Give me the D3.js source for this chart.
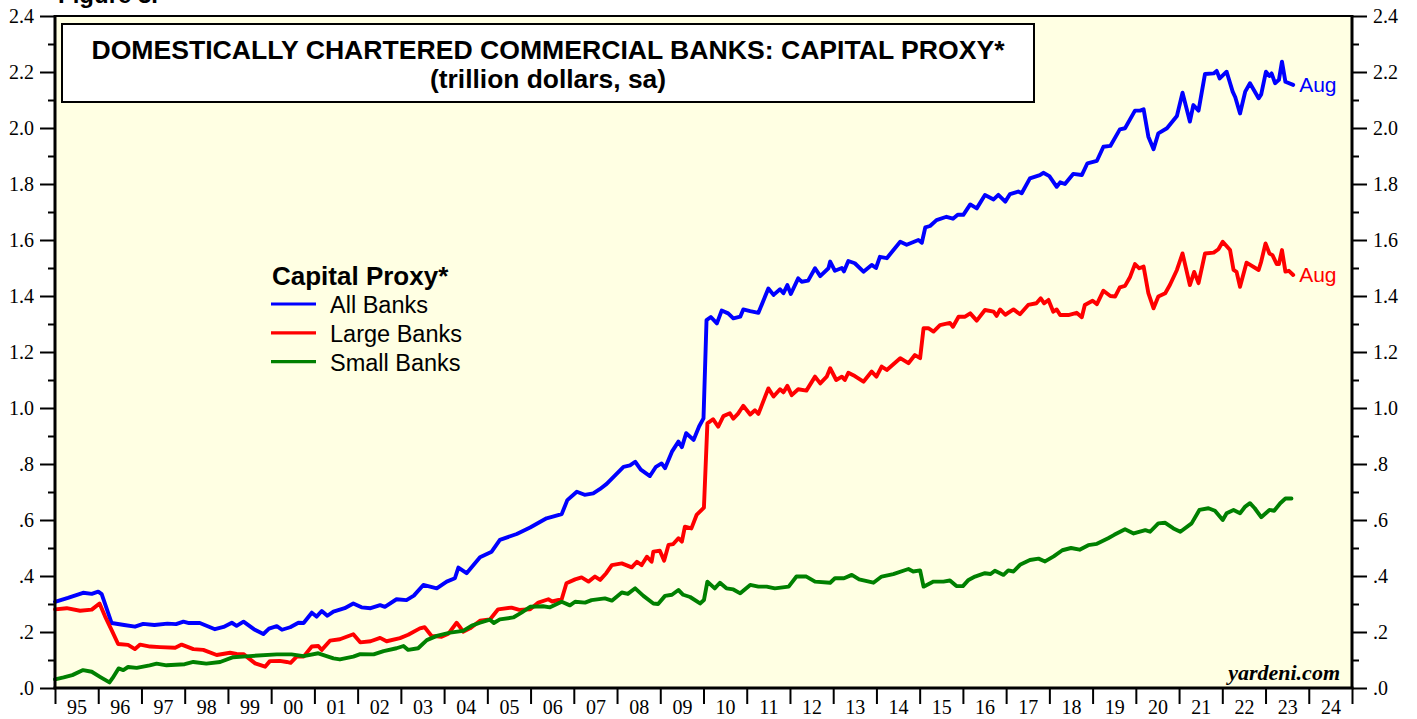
<!DOCTYPE html>
<html><head><meta charset="utf-8">
<script src="https://cdn.jsdelivr.net/npm/d3@7"></script>
<style>html,body{margin:0;padding:0;background:#fff;}svg{display:block;}</style>
</head><body>
<svg id="chart" width="1417" height="719"></svg>
<script>
// ---- data (decimal years, trillion dollars) ----
const allDates = [1995.0,1995.3,1995.65,1995.85,1996.0,1996.08,1996.31,1996.6,1996.85,1997.04,1997.3,1997.6,1997.8,1997.97,1998.1,1998.35,1998.7,1998.9,1999.09,1999.2,1999.36,1999.6,1999.82,1999.95,2000.13,2000.25,2000.44,2000.63,2000.75,2000.94,2001.05,2001.17,2001.3,2001.44,2001.7,2001.9,2002.09,2002.3,2002.52,2002.63,2002.9,2003.13,2003.3,2003.52,2003.83,2004.06,2004.25,2004.33,2004.52,2004.83,2005.1,2005.29,2005.68,2005.99,2006.37,2006.72,2006.85,2007.07,2007.25,2007.45,2007.6,2007.76,2008.15,2008.3,2008.42,2008.55,2008.76,2008.9,2009.03,2009.11,2009.27,2009.42,2009.5,2009.6,2009.77,2009.9,2010.0,2010.07,2010.17,2010.31,2010.42,2010.57,2010.69,2010.85,2010.92,2011.08,2011.27,2011.5,2011.62,2011.77,2011.85,2011.94,2012.02,2012.19,2012.27,2012.42,2012.58,2012.7,2012.89,2012.93,2013.04,2013.2,2013.25,2013.35,2013.5,2013.7,2013.89,2013.99,2014.08,2014.24,2014.55,2014.7,2014.97,2015.05,2015.13,2015.24,2015.39,2015.62,2015.77,2015.88,2016.01,2016.17,2016.32,2016.51,2016.71,2016.82,2016.98,2017.09,2017.28,2017.36,2017.55,2017.78,2017.86,2018.0,2018.17,2018.25,2018.36,2018.55,2018.75,2018.88,2019.1,2019.25,2019.41,2019.63,2019.75,2019.98,2020.1,2020.18,2020.29,2020.41,2020.52,2020.72,2020.95,2021.08,2021.25,2021.33,2021.45,2021.6,2021.8,2021.87,2021.94,2022.1,2022.24,2022.3,2022.41,2022.53,2022.64,2022.84,2022.9,2023.01,2023.09,2023.14,2023.22,2023.31,2023.38,2023.46,2023.64];
const allValues = [0.308,0.322,0.340,0.336,0.344,0.335,0.232,0.225,0.219,0.229,0.225,0.230,0.228,0.237,0.232,0.232,0.210,0.218,0.233,0.222,0.237,0.210,0.193,0.212,0.221,0.208,0.217,0.233,0.232,0.269,0.255,0.275,0.258,0.273,0.285,0.302,0.288,0.285,0.296,0.290,0.317,0.314,0.330,0.368,0.356,0.380,0.392,0.430,0.410,0.467,0.487,0.529,0.550,0.573,0.606,0.621,0.671,0.701,0.690,0.695,0.710,0.729,0.790,0.795,0.808,0.780,0.757,0.790,0.802,0.785,0.844,0.880,0.860,0.910,0.886,0.935,0.963,1.314,1.325,1.302,1.348,1.338,1.320,1.326,1.352,1.346,1.340,1.427,1.404,1.424,1.410,1.439,1.407,1.463,1.451,1.455,1.499,1.471,1.499,1.523,1.490,1.500,1.488,1.525,1.517,1.487,1.511,1.500,1.540,1.535,1.594,1.583,1.600,1.590,1.645,1.650,1.671,1.683,1.676,1.690,1.690,1.727,1.713,1.761,1.745,1.761,1.737,1.764,1.773,1.767,1.820,1.832,1.840,1.828,1.790,1.806,1.800,1.836,1.832,1.874,1.883,1.933,1.936,1.995,1.999,2.062,2.062,2.067,1.969,1.924,1.981,1.999,2.043,2.126,2.023,2.082,2.062,2.193,2.195,2.204,2.177,2.201,2.130,2.110,2.052,2.130,2.160,2.106,2.120,2.201,2.186,2.195,2.160,2.172,2.237,2.165,2.154];

const largeDates = [1995.0,1995.27,1995.58,1995.85,1996.03,1996.16,1996.31,1996.46,1996.69,1996.85,1996.97,1997.2,1997.43,1997.78,1997.93,1998.2,1998.43,1998.74,1999.05,1999.2,1999.36,1999.63,1999.86,1999.97,2000.2,2000.36,2000.45,2000.59,2000.75,2000.94,2001.09,2001.17,2001.36,2001.59,2001.9,2002.06,2002.3,2002.52,2002.67,2002.98,2003.17,2003.44,2003.55,2003.71,2003.94,2004.1,2004.29,2004.36,2004.44,2004.6,2004.83,2005.06,2005.25,2005.56,2005.74,2005.99,2006.18,2006.41,2006.5,2006.72,2006.83,2007.03,2007.18,2007.34,2007.49,2007.61,2007.75,2007.88,2008.11,2008.34,2008.46,2008.57,2008.69,2008.8,2008.84,2008.99,2009.09,2009.19,2009.3,2009.42,2009.5,2009.57,2009.72,2009.84,2010.01,2010.09,2010.22,2010.34,2010.46,2010.61,2010.69,2010.8,2010.92,2011.08,2011.19,2011.27,2011.5,2011.62,2011.77,2011.85,2011.94,2012.04,2012.19,2012.38,2012.58,2012.7,2012.85,2012.93,2013.07,2013.2,2013.27,2013.35,2013.5,2013.7,2013.89,2014.0,2014.12,2014.24,2014.55,2014.74,2014.89,2015.01,2015.09,2015.2,2015.32,2015.47,2015.7,2015.77,2015.9,2016.05,2016.17,2016.32,2016.51,2016.71,2016.78,2016.86,2016.98,2017.17,2017.32,2017.51,2017.7,2017.8,2017.88,2017.98,2018.09,2018.17,2018.25,2018.44,2018.63,2018.75,2018.82,2019.0,2019.1,2019.25,2019.41,2019.52,2019.63,2019.75,2019.87,2019.98,2020.08,2020.18,2020.29,2020.41,2020.52,2020.68,2020.79,2020.95,2021.08,2021.25,2021.35,2021.45,2021.6,2021.8,2021.91,2022.01,2022.18,2022.26,2022.33,2022.41,2022.56,2022.84,2022.9,2023.0,2023.09,2023.16,2023.26,2023.31,2023.38,2023.46,2023.54,2023.64];
const largeValues = [0.281,0.285,0.276,0.280,0.302,0.255,0.207,0.157,0.154,0.139,0.155,0.148,0.146,0.144,0.155,0.139,0.136,0.118,0.126,0.122,0.121,0.088,0.076,0.096,0.097,0.093,0.090,0.112,0.112,0.148,0.150,0.136,0.169,0.174,0.192,0.163,0.167,0.179,0.167,0.178,0.190,0.213,0.217,0.186,0.183,0.194,0.233,0.219,0.201,0.213,0.240,0.245,0.281,0.287,0.279,0.281,0.305,0.317,0.309,0.317,0.374,0.388,0.395,0.380,0.398,0.386,0.410,0.439,0.445,0.431,0.451,0.439,0.469,0.451,0.487,0.490,0.455,0.511,0.514,0.535,0.523,0.576,0.570,0.618,0.644,0.945,0.960,0.933,0.971,0.981,0.962,0.980,1.008,0.977,0.992,0.979,1.070,1.041,1.067,1.056,1.079,1.046,1.067,1.062,1.112,1.088,1.112,1.142,1.100,1.112,1.100,1.126,1.114,1.094,1.130,1.112,1.148,1.136,1.178,1.160,1.189,1.178,1.285,1.285,1.273,1.296,1.304,1.290,1.326,1.326,1.338,1.312,1.350,1.344,1.329,1.352,1.333,1.352,1.335,1.368,1.374,1.392,1.374,1.386,1.344,1.352,1.332,1.332,1.340,1.324,1.368,1.383,1.371,1.419,1.400,1.398,1.431,1.436,1.469,1.514,1.499,1.505,1.410,1.356,1.398,1.410,1.440,1.493,1.552,1.439,1.486,1.446,1.552,1.555,1.567,1.594,1.564,1.493,1.486,1.433,1.519,1.493,1.523,1.588,1.552,1.546,1.514,1.514,1.564,1.487,1.490,1.475];

const smallDates = [1995.0,1995.2,1995.4,1995.65,1995.85,1996.04,1996.26,1996.33,1996.47,1996.58,1996.69,1996.89,1997.19,1997.35,1997.58,1998.0,1998.2,1998.5,1998.82,1999.12,1999.5,2000.13,2000.47,2000.75,2001.09,2001.44,2001.59,2001.9,2002.06,2002.37,2002.6,2002.9,2003.06,2003.17,2003.4,2003.6,2003.83,2004.14,2004.44,2004.64,2004.83,2005.06,2005.15,2005.29,2005.6,2005.79,2005.99,2006.29,2006.45,2006.72,2006.91,2007.03,2007.26,2007.41,2007.72,2007.88,2008.11,2008.25,2008.42,2008.61,2008.84,2008.95,2009.11,2009.27,2009.42,2009.53,2009.69,2009.92,2010.01,2010.09,2010.26,2010.38,2010.53,2010.69,2010.85,2011.08,2011.27,2011.46,2011.65,2011.97,2012.15,2012.38,2012.58,2012.93,2013.04,2013.25,2013.43,2013.6,2013.93,2014.12,2014.39,2014.74,2014.85,2015.01,2015.09,2015.32,2015.55,2015.7,2015.85,2016.0,2016.13,2016.28,2016.51,2016.64,2016.74,2016.94,2017.05,2017.17,2017.32,2017.55,2017.75,2017.9,2018.1,2018.3,2018.5,2018.7,2018.9,2019.1,2019.36,2019.5,2019.75,2019.95,2020.22,2020.33,2020.52,2020.68,2020.87,2021.03,2021.29,2021.47,2021.68,2021.83,2022.01,2022.1,2022.26,2022.41,2022.53,2022.64,2022.75,2022.9,2023.09,2023.2,2023.34,2023.46,2023.6];
const smallValues = [0.031,0.038,0.046,0.064,0.058,0.040,0.020,0.035,0.070,0.064,0.075,0.072,0.081,0.087,0.081,0.085,0.093,0.087,0.093,0.110,0.114,0.120,0.120,0.114,0.124,0.106,0.102,0.112,0.121,0.120,0.132,0.142,0.150,0.136,0.142,0.171,0.186,0.198,0.204,0.223,0.233,0.244,0.232,0.245,0.252,0.269,0.290,0.292,0.288,0.308,0.295,0.308,0.305,0.314,0.320,0.312,0.341,0.336,0.356,0.329,0.302,0.300,0.329,0.333,0.350,0.333,0.325,0.302,0.314,0.380,0.356,0.376,0.356,0.352,0.338,0.368,0.362,0.362,0.356,0.362,0.398,0.398,0.380,0.376,0.392,0.392,0.404,0.388,0.376,0.398,0.407,0.425,0.416,0.420,0.362,0.380,0.380,0.384,0.364,0.364,0.386,0.398,0.410,0.407,0.419,0.404,0.420,0.416,0.440,0.457,0.462,0.452,0.470,0.492,0.500,0.494,0.510,0.515,0.535,0.547,0.567,0.552,0.564,0.558,0.588,0.590,0.570,0.558,0.588,0.636,0.642,0.633,0.600,0.624,0.636,0.624,0.648,0.660,0.642,0.610,0.636,0.633,0.660,0.677,0.677];

const seriesNames = ["All Banks", "Large Banks", "Small Banks"];
const seriesColors = ["#0000ff", "#ff0000", "#008000"];
const yTicks = [0,0.2,0.4,0.6,0.8,1.0,1.2,1.4,1.6,1.8,2.0,2.2,2.4];
const yMinorTicks = [0.1,0.3,0.5,0.7,0.9,1.1,1.3,1.5,1.7,1.9,2.1,2.3];
const xYearTicks = d3.range(1995, 2026);
const xYearLabels = ["95","96","97","98","99","00","01","02","03","04","05","06","07","08","09","10","11","12","13","14","15","16","17","18","19","20","21","22","23","24"];
const lastLabel = "Aug";
const titleLines = ["DOMESTICALLY CHARTERED COMMERCIAL BANKS: CAPITAL PROXY*", "(trillion dollars, sa)"];

// ---- layout ----
const L = 55, R = 1352, T = 16, B = 688;
const svg = d3.select("#chart");
const x = d3.scaleLinear().domain([1995, 2025]).range([L, R]);
const y = d3.scaleLinear().domain([0, 2.4]).range([B, T]);
const serif = "'Liberation Serif', 'Times New Roman', serif";
const sans = "'Liberation Sans', Arial, Helvetica, sans-serif";

svg.append("text").attr("x", 58).attr("y", 3).attr("font-family", sans).attr("font-weight", "bold")
  .attr("font-size", 24).text("Figure 3.");

svg.append("rect").attr("x", L).attr("y", T).attr("width", R - L).attr("height", B - T).attr("fill", "#ffffe3");

// Title box
svg.append("rect").attr("x", 62).attr("y", 24).attr("width", 972).attr("height", 78)
  .attr("fill", "#fff").attr("stroke", "#000").attr("stroke-width", 2);
svg.append("text").attr("x", 548).attr("y", 59).attr("text-anchor", "middle").attr("font-family", sans)
  .attr("font-weight", "bold").attr("font-size", 26.6).text(titleLines[0]);
svg.append("text").attr("x", 548).attr("y", 88).attr("text-anchor", "middle").attr("font-family", sans)
  .attr("font-weight", "bold").attr("font-size", 26.4).text(titleLines[1]);

// lines
const series = [
  {dates: allDates, values: allValues},
  {dates: largeDates, values: largeValues},
  {dates: smallDates, values: smallValues}
];
const line = d3.line().x(d => x(d[0])).y(d => y(d[1]));
series.forEach((s, i) => {
  const pts = s.dates.map((d, j) => [d, s.values[j]]);
  svg.append("path").datum(pts).attr("d", line).attr("fill", "none")
    .attr("stroke", seriesColors[i]).attr("stroke-width", 3.9)
    .attr("stroke-linejoin", "round").attr("stroke-linecap", "round");
});

// end labels
[0, 1].forEach(i => {
  const s = series[i];
  const n = s.dates.length - 1;
  svg.append("text").attr("x", x(s.dates[n]) + 6).attr("y", y(s.values[n]) + 7)
    .attr("font-family", sans).attr("font-size", 21).attr("fill", seriesColors[i]).text(lastLabel);
});

// legend
svg.append("text").attr("x", 272).attr("y", 285).attr("font-family", sans).attr("font-weight", "bold")
  .attr("font-size", 26).text("Capital Proxy*");
seriesNames.forEach((nm, i) => {
  const yy = 304 + i * 28.8;
  svg.append("line").attr("x1", 271).attr("x2", 316).attr("y1", yy).attr("y2", yy)
    .attr("stroke", seriesColors[i]).attr("stroke-width", 3.2);
  svg.append("text").attr("x", 330).attr("y", yy + 9).attr("font-family", sans).attr("font-size", 23.5).text(nm);
});

// watermark
svg.append("text").attr("x", 1340).attr("y", 680).attr("text-anchor", "end").attr("font-family", serif)
  .attr("font-weight", "bold").attr("font-style", "italic").attr("font-size", 22).text("yardeni.com");

// frame
svg.append("line").attr("x1", L).attr("x2", R).attr("y1", T).attr("y2", T).attr("stroke", "#000").attr("stroke-width", 2);
svg.append("line").attr("x1", L - 1.5).attr("x2", R + 1.5).attr("y1", B).attr("y2", B).attr("stroke", "#000").attr("stroke-width", 3);
svg.append("line").attr("x1", L).attr("x2", L).attr("y1", T - 1).attr("y2", B).attr("stroke", "#000").attr("stroke-width", 3);
svg.append("line").attr("x1", R).attr("x2", R).attr("y1", T - 1).attr("y2", B).attr("stroke", "#000").attr("stroke-width", 3);

// y axes
const fmt = v => v === 0 ? ".0" : (v < 1 ? v.toFixed(1).replace(/^0/, "") : v.toFixed(1));
svg.append("g").attr("transform", `translate(${L},0)`)
  .call(d3.axisLeft(y).tickValues(yTicks).tickFormat(fmt).tickSize(15).tickPadding(6));
svg.append("g").attr("transform", `translate(${R},0)`)
  .call(d3.axisRight(y).tickValues(yTicks).tickFormat(fmt).tickSize(15).tickPadding(6));
svg.append("g").attr("transform", `translate(${L},0)`)
  .call(d3.axisLeft(y).tickValues(yMinorTicks).tickFormat("").tickSize(7));
svg.append("g").attr("transform", `translate(${R},0)`)
  .call(d3.axisRight(y).tickValues(yMinorTicks).tickFormat("").tickSize(7));

// x axis: ticks at year boundaries, labels mid-year
svg.append("g").attr("transform", `translate(0,${B})`)
  .call(d3.axisBottom(x).tickValues(xYearTicks).tickFormat("").tickSize(16));
svg.append("g").attr("transform", `translate(0,${B})`)
  .call(d3.axisBottom(x).tickValues(xYearLabels.map((_, i) => 1995.5 + i))
    .tickFormat((d, i) => xYearLabels[i]).tickSize(0).tickPadding(12));

svg.selectAll(".domain").remove();
svg.selectAll(".tick line").attr("stroke", "#000").attr("stroke-width", 2);
svg.selectAll(".tick text").attr("font-family", serif).attr("font-size", 20).attr("fill", "#000");
</script>
</body></html>
